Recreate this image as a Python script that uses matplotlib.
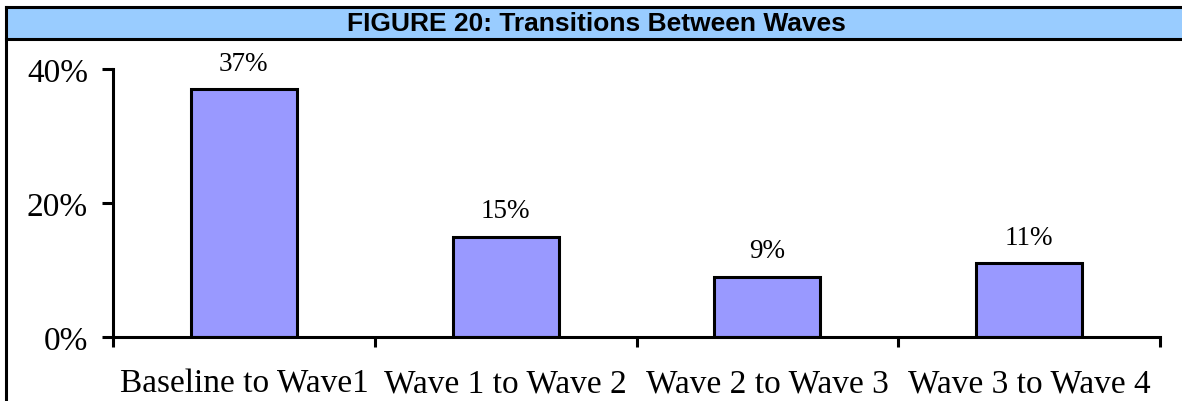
import matplotlib
matplotlib.use("Agg")
import matplotlib.pyplot as plt
from matplotlib.patches import Rectangle
from matplotlib.lines import Line2D

categories = ["Baseline to Wave1", "Wave 1 to Wave 2", "Wave 2 to Wave 3", "Wave 3 to Wave 4"]
shares = [37, 15, 9, 11]
y_ticks = [0, 20, 40]
title = "FIGURE 20: Transitions Between Waves"

W, H = 1182, 402
fig = plt.figure(figsize=(W / 100, H / 100), dpi=100)
fig.patch.set_facecolor("white")

# title band with frame
fig.patches.append(Rectangle((6 / W, (H - 40) / H), 1.0, 32 / H, transform=fig.transFigure,
                             facecolor="#99CCFF", edgecolor="none", zorder=0))
for y in (8, 40):
    fig.add_artist(Line2D([6 / W, 1.0], [(H - y) / H] * 2, color="black", lw=2.2))
fig.add_artist(Line2D([6 / W, 6 / W], [0, (H - 8) / H], color="black", lw=2.2))
fig.text(596 / W, (H - 24) / H, title, ha="center", va="center",
         family="Liberation Sans", fontweight="bold", fontsize=19)

ax = fig.add_axes([113 / W, (H - 338) / H, (1160 - 113) / W, (338 - 70) / H])
x = range(len(categories))
bars = ax.bar(x, shares, width=0.405, color="#9999FF", edgecolor="black", linewidth=2.2)
for xi, v in zip(x, shares):
    ax.annotate(f"{v}%", (xi, v), xytext=(0, 14), textcoords="offset points",
                ha="center", va="baseline", family="Liberation Serif", fontsize=19.5)

ax.set_xlim(-0.5, len(categories) - 0.5)
ax.set_ylim(0, 40)
for s in ("top", "right"):
    ax.spines[s].set_visible(False)
for s in ("left", "bottom"):
    ax.spines[s].set_linewidth(2.2)

ax.set_yticks(y_ticks)
ax.set_yticklabels([f"{t}%" for t in y_ticks], family="Liberation Serif", fontsize=24)
ax.tick_params(axis="y", direction="out", length=8, width=2.2, pad=10)

ax.set_xticks(list(x))
ax.set_xticklabels(categories, family="Liberation Serif", fontsize=24)
ax.set_xticks([i - 0.5 for i in range(len(categories) + 1)], minor=True)
ax.tick_params(axis="x", which="major", length=0, pad=22)
ax.tick_params(axis="x", which="minor", direction="out", length=7, width=2.2)

fig.savefig("out.png", dpi=100)
plt.close(fig)
